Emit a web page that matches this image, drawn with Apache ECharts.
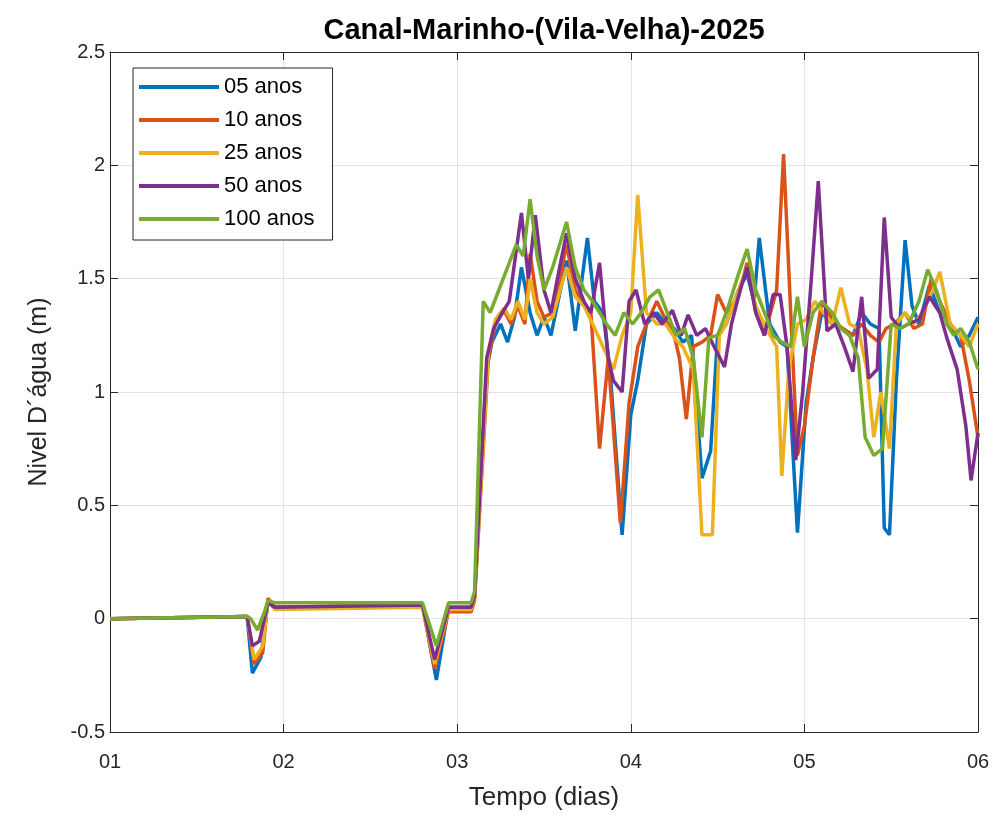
<!DOCTYPE html>
<html>
<head>
<meta charset="utf-8">
<script src="https://cdn.jsdelivr.net/npm/echarts@6/dist/echarts.min.js"></script>
<style>
  html, body { margin: 0; padding: 0; background: #fff; }
  #chart { width: 997px; height: 818px; }
</style>
</head>
<body>
<div id="chart"></div>
<script>
// nivel d'agua (m) por periodo de retorno, pares [dia, nivel]
var anos05 = [[1.00,0.00],[1.79,0.01],[1.82,-0.24],[1.87,-0.17],[1.91,0.08],[1.95,0.05],[2.80,0.06],[2.88,-0.27],[2.95,0.05],[3.08,0.05],[3.10,0.10],[3.17,1.10],[3.20,1.22],[3.25,1.30],[3.29,1.22],[3.33,1.33],[3.37,1.55],[3.42,1.35],[3.46,1.25],[3.50,1.33],[3.54,1.25],[3.63,1.58],[3.68,1.27],[3.75,1.68],[3.79,1.40],[3.84,1.35],[3.88,1.10],[3.95,0.37],[4.00,0.90],[4.04,1.05],[4.09,1.30],[4.15,1.35],[4.20,1.30],[4.25,1.28],[4.30,1.22],[4.35,1.25],[4.41,0.62],[4.46,0.74],[4.50,1.25],[4.55,1.30],[4.62,1.45],[4.67,1.52],[4.71,1.40],[4.74,1.68],[4.80,1.30],[4.86,1.22],[4.90,1.20],[4.96,0.38],[5.01,0.95],[5.05,1.15],[5.10,1.35],[5.16,1.30],[5.22,1.28],[5.28,1.25],[5.33,1.35],[5.38,1.30],[5.43,1.28],[5.46,0.40],[5.49,0.37],[5.53,1.05],[5.58,1.67],[5.62,1.38],[5.66,1.30],[5.72,1.47],[5.78,1.35],[5.84,1.30],[5.90,1.20],[5.95,1.25],[6.00,1.33]];
var anos10 = [[1.00,0.00],[1.79,0.01],[1.83,-0.20],[1.88,-0.15],[1.91,0.09],[1.95,0.05],[2.80,0.06],[2.87,-0.22],[2.95,0.03],[3.08,0.03],[3.10,0.08],[3.18,1.15],[3.22,1.30],[3.27,1.36],[3.31,1.30],[3.35,1.38],[3.39,1.30],[3.42,1.61],[3.46,1.40],[3.50,1.33],[3.55,1.35],[3.63,1.65],[3.68,1.45],[3.72,1.40],[3.77,1.35],[3.82,0.75],[3.87,1.15],[3.94,0.42],[3.99,0.95],[4.04,1.20],[4.09,1.30],[4.15,1.40],[4.20,1.32],[4.25,1.25],[4.28,1.15],[4.32,0.88],[4.36,1.20],[4.41,1.22],[4.46,1.25],[4.50,1.43],[4.55,1.35],[4.62,1.42],[4.67,1.57],[4.72,1.35],[4.77,1.25],[4.84,1.45],[4.88,2.05],[4.93,1.20],[4.96,0.72],[5.00,0.85],[5.05,1.15],[5.10,1.40],[5.16,1.32],[5.22,1.28],[5.28,1.25],[5.33,1.30],[5.38,1.25],[5.43,1.22],[5.47,1.28],[5.52,1.30],[5.58,1.35],[5.63,1.28],[5.68,1.30],[5.73,1.50],[5.78,1.40],[5.84,1.30],[5.90,1.25],[5.95,1.05],[6.00,0.80]];
var anos25 = [[1.00,0.00],[1.79,0.01],[1.83,-0.18],[1.88,-0.12],[1.91,0.08],[1.95,0.04],[2.80,0.05],[2.87,-0.20],[2.95,0.04],[3.08,0.04],[3.10,0.09],[3.18,1.18],[3.22,1.32],[3.27,1.37],[3.31,1.32],[3.35,1.40],[3.39,1.32],[3.42,1.50],[3.46,1.35],[3.50,1.30],[3.55,1.33],[3.63,1.55],[3.68,1.42],[3.73,1.38],[3.78,1.30],[3.84,1.20],[3.90,1.10],[3.95,1.25],[4.00,1.35],[4.04,1.87],[4.09,1.35],[4.15,1.30],[4.20,1.30],[4.26,1.23],[4.30,1.20],[4.36,1.10],[4.41,0.37],[4.47,0.37],[4.51,1.25],[4.55,1.30],[4.62,1.45],[4.67,1.55],[4.72,1.38],[4.78,1.28],[4.84,1.20],[4.87,0.63],[4.91,1.10],[4.96,1.30],[5.01,1.32],[5.06,1.40],[5.11,1.35],[5.16,1.30],[5.21,1.46],[5.26,1.30],[5.31,1.28],[5.36,1.10],[5.40,0.80],[5.44,1.00],[5.49,0.75],[5.53,1.30],[5.58,1.35],[5.63,1.30],[5.68,1.35],[5.74,1.45],[5.78,1.53],[5.84,1.30],[5.90,1.25],[5.95,1.20],[6.00,1.30]];
var anos50 = [[1.00,0.00],[1.79,0.01],[1.82,-0.12],[1.86,-0.10],[1.91,0.07],[1.95,0.05],[2.80,0.06],[2.87,-0.18],[2.95,0.05],[3.08,0.05],[3.10,0.10],[3.17,1.15],[3.21,1.28],[3.26,1.35],[3.30,1.40],[3.37,1.79],[3.41,1.50],[3.45,1.78],[3.50,1.45],[3.54,1.35],[3.59,1.55],[3.63,1.70],[3.68,1.50],[3.73,1.40],[3.77,1.35],[3.82,1.57],[3.87,1.15],[3.90,1.05],[3.95,1.00],[3.99,1.40],[4.03,1.45],[4.08,1.30],[4.13,1.35],[4.18,1.30],[4.24,1.36],[4.29,1.25],[4.33,1.34],[4.38,1.25],[4.43,1.28],[4.48,1.20],[4.54,1.11],[4.58,1.30],[4.63,1.45],[4.67,1.55],[4.72,1.35],[4.77,1.25],[4.82,1.43],[4.86,1.43],[4.90,1.20],[4.95,0.70],[4.99,1.00],[5.04,1.50],[5.08,1.93],[5.13,1.27],[5.18,1.30],[5.23,1.20],[5.28,1.09],[5.33,1.42],[5.37,1.06],[5.42,1.10],[5.46,1.77],[5.50,1.33],[5.55,1.28],[5.60,1.30],[5.66,1.32],[5.72,1.42],[5.78,1.35],[5.82,1.24],[5.88,1.10],[5.93,0.85],[5.96,0.61],[6.00,0.82]];
var anos100 = [[1.00,0.00],[1.79,0.01],[1.81,0.00],[1.85,-0.05],[1.89,0.03],[1.91,0.08],[1.95,0.07],[2.80,0.07],[2.88,-0.12],[2.95,0.07],[3.08,0.07],[3.10,0.12],[3.15,1.40],[3.19,1.35],[3.24,1.45],[3.29,1.55],[3.34,1.65],[3.38,1.60],[3.42,1.85],[3.46,1.60],[3.50,1.45],[3.55,1.55],[3.63,1.75],[3.68,1.55],[3.73,1.45],[3.78,1.40],[3.82,1.35],[3.86,1.30],[3.91,1.25],[3.96,1.35],[4.01,1.30],[4.06,1.35],[4.11,1.42],[4.16,1.45],[4.21,1.35],[4.26,1.25],[4.31,1.28],[4.36,1.15],[4.41,0.80],[4.45,1.24],[4.50,1.25],[4.55,1.35],[4.62,1.52],[4.67,1.63],[4.72,1.45],[4.77,1.35],[4.82,1.25],[4.87,1.22],[4.92,1.20],[4.96,1.42],[5.00,1.20],[5.05,1.35],[5.10,1.40],[5.16,1.35],[5.21,1.28],[5.26,1.25],[5.31,1.15],[5.35,0.80],[5.40,0.72],[5.45,0.75],[5.50,1.30],[5.55,1.28],[5.60,1.30],[5.66,1.40],[5.71,1.54],[5.76,1.45],[5.82,1.30],[5.86,1.25],[5.90,1.28],[5.95,1.22],[6.00,1.10]];

var nomes = ['05 anos', '10 anos', '25 anos', '50 anos', '100 anos'];
var cores = ['#0072BD', '#D95319', '#EDB120', '#7E2F8E', '#77AC30'];
var niveis = [anos05, anos10, anos25, anos50, anos100];

var eixo = '#262626';
var fonte = 'Liberation Sans, Arial, sans-serif';

var myChart = echarts.init(document.getElementById('chart'));

var series = niveis.map(function (d, i) {
  return {
    name: nomes[i],
    type: 'line',
    data: d,
    showSymbol: false,
    symbol: 'none',
    lineStyle: { width: 3.5, color: cores[i] },
    itemStyle: { color: cores[i] },
    z: 2 + i
  };
});

var option = {
  animation: false,
  backgroundColor: '#fff',
  graphic: [{
    type: 'text',
    x: 544, y: 31,
    style: {
      text: 'Canal-Marinho-(Vila-Velha)-2025',
      fontFamily: fonte, fontSize: 29, fontWeight: 'bold',
      fill: '#000', textAlign: 'center', textVerticalAlign: 'middle'
    }
  }],
  legend: {
    orient: 'vertical',
    left: 133, top: 68,
    data: nomes,
    icon: 'rect',
    itemWidth: 80, itemHeight: 4,
    itemGap: 11,
    padding: [8, 18, 10, 6],
    backgroundColor: '#fff',
    borderColor: eixo, borderWidth: 1,
    textStyle: { fontFamily: fonte, fontSize: 22, color: '#000' }
  },
  grid: { left: 110, right: 19, top: 52, bottom: 86, containLabel: false },
  xAxis: [{
    type: 'value', min: 1, max: 6, interval: 1,
    name: 'Tempo (dias)', nameLocation: 'middle', nameGap: 53,
    nameTextStyle: { fontFamily: fonte, fontSize: 26, color: eixo },
    axisLine: { onZero: false, lineStyle: { color: eixo, width: 1 } },
    axisTick: { inside: true, length: 8, lineStyle: { color: eixo } },
    axisLabel: {
      margin: 20, fontFamily: fonte, fontSize: 20, color: eixo,
      formatter: function (v) { return '0' + v; }
    },
    splitLine: { show: true, lineStyle: { color: '#e3e3e3', width: 1 } }
  }, {
    type: 'value', position: 'top', min: 1, max: 6, interval: 1,
    axisLine: { show: true, onZero: false, lineStyle: { color: eixo, width: 1 } },
    axisTick: { inside: true, length: 8, lineStyle: { color: eixo } },
    axisLabel: { show: false },
    splitLine: { show: false }
  }],
  yAxis: [{
    type: 'value', min: -0.5, max: 2.5, interval: 0.5,
    name: 'Nivel D´água (m)', nameLocation: 'middle', nameGap: 58, nameRotate: 90,
    nameTextStyle: { fontFamily: fonte, fontSize: 25, color: eixo },
    axisLine: { show: true, onZero: false, lineStyle: { color: eixo, width: 1 } },
    axisTick: { show: true, inside: true, length: 8, lineStyle: { color: eixo } },
    axisLabel: { margin: 5, fontFamily: fonte, fontSize: 20, color: eixo },
    splitLine: { show: true, lineStyle: { color: '#e3e3e3', width: 1 } }
  }, {
    type: 'value', position: 'right', min: -0.5, max: 2.5, interval: 0.5,
    axisLine: { show: true, onZero: false, lineStyle: { color: eixo, width: 1 } },
    axisTick: { show: true, inside: true, length: 8, lineStyle: { color: eixo } },
    axisLabel: { show: false },
    splitLine: { show: false }
  }],
  series: series
};

myChart.setOption(option);
</script>
</body>
</html>
